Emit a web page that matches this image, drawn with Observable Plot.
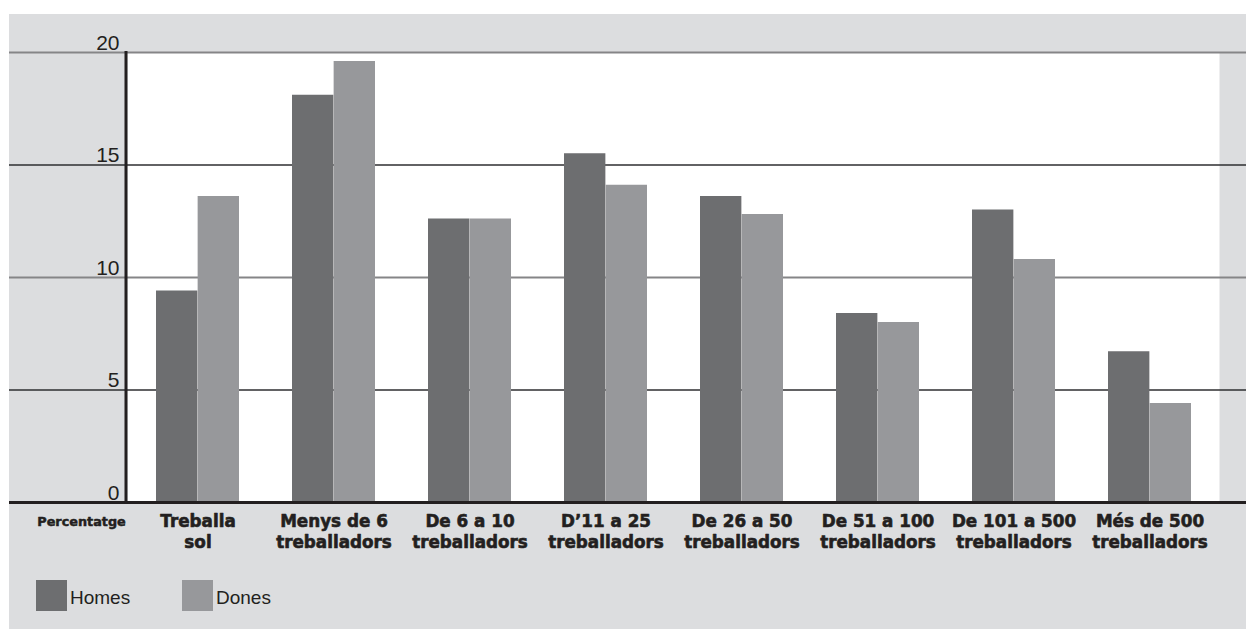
<!DOCTYPE html>
<html>
<head>
<meta charset="utf-8">
<script src="https://cdn.jsdelivr.net/npm/d3@7"></script>
<script src="https://cdn.jsdelivr.net/npm/@observablehq/plot@0.6"></script>
<style>
  html, body { margin: 0; padding: 0; background: #ffffff; }
  #panel { position: absolute; left: 9px; top: 14px; width: 1237px; height: 615px; background: #dcdddf; overflow: hidden; }
  #legend { position: relative; height: 65px; font-family: "Liberation Sans", Arial, sans-serif; font-size: 19px; color: #231f20; }
  .item { position: absolute; top: 16px; display: flex; align-items: center; }
  .sw { width: 31px; height: 31px; margin-right: 3px; }
  .lbl { position: relative; top: 2px; }
</style>
</head>
<body>
<div id="panel"><div id="chart"></div><div id="legend"></div></div>
<script>
const categories = ["Treballa sol", "Menys de 6 treballadors", "De 6 a 10 treballadors", "D\u201911 a 25 treballadors", "De 26 a 50 treballadors", "De 51 a 100 treballadors", "De 101 a 500 treballadors", "M\u00e9s de 500 treballadors"];
const categoryLabels = ["Treballa\nsol", "Menys de 6\ntreballadors", "De 6 a 10\ntreballadors", "D\u201911 a 25\ntreballadors", "De 26 a 50\ntreballadors", "De 51 a 100\ntreballadors", "De 101 a 500\ntreballadors", "M\u00e9s de 500\ntreballadors"];
const series = ["Homes", "Dones"];
const homes = [9.4, 18.1, 12.6, 15.5, 13.6, 8.4, 13.0, 6.7];
const dones = [13.6, 19.6, 12.6, 14.1, 12.8, 8.0, 10.8, 4.4];
const yTicks = [0, 5, 10, 15, 20];
const yAxisTitle = "Percentatge";
const colors = {Homes: "#6d6e70", Dones: "#97989b"};

const rowsH = categories.map((c, i) => ({category: c, series: "Homes", value: homes[i]}));
const rowsD = categories.map((c, i) => ({category: c, series: "Dones", value: dones[i]}));

const W = 1237, ML = 118, MR = 27;
const padInner = 0.39;
const step = (W - ML - MR) / categories.length;
const half = step * (1 - padInner) / 2;
const labelOf = new Map(categories.map((c, i) => [c, categoryLabels[i]]));
const textColor = "#231f20";

const chart = Plot.plot({
  width: W,
  height: 550,
  marginTop: 38,
  marginBottom: 62,
  marginLeft: ML,
  marginRight: MR,
  style: {background: "transparent", overflow: "visible"},
  x: {domain: categories, type: "band", paddingInner: padInner, paddingOuter: padInner / 2, axis: null},
  y: {domain: [0, 20], axis: null},
  marks: [
    Plot.frame({fill: "#ffffff", stroke: "none"}),
    Plot.ruleY(yTicks.filter(d => d % 10 === 0 && d > 0), {stroke: "#858587", strokeWidth: 2, insetLeft: -ML, insetRight: -MR}),
    Plot.ruleY(yTicks.filter(d => d % 10 === 5), {stroke: "#2e2e30", strokeWidth: 1.5, insetLeft: -ML, insetRight: -MR}),
    Plot.barY(rowsH, {x: "category", y: "value", fill: colors.Homes, insetRight: half}),
    Plot.barY(rowsD, {x: "category", y: "value", fill: colors.Dones, insetLeft: half}),
    Plot.ruleY([0], {stroke: "#231f20", strokeWidth: 3, insetLeft: -ML, insetRight: -MR}),
    Plot.frame({anchor: "left", stroke: "#231f20", strokeWidth: 3, dx: -1.5}),
    Plot.text(yTicks, {y: d => d, text: d => String(d), frameAnchor: "left", dx: -8, dy: -3, textAnchor: "end", lineAnchor: "bottom", fontSize: 21, fontFamily: "Liberation Sans, Arial, sans-serif", fill: textColor}),
    Plot.text(categories, {x: d => d, text: d => labelOf.get(d), frameAnchor: "bottom", lineAnchor: "top", dy: 10, fontSize: 16.8, lineHeight: 1.25, fontWeight: "bold", fontFamily: "DejaVu Sans, sans-serif", fill: textColor, stroke: textColor, strokeWidth: 0.6}),
    Plot.text([yAxisTitle], {text: d => d, frameAnchor: "bottom-left", dx: -46, dy: 14, textAnchor: "middle", lineAnchor: "top", fontSize: 12.8, fontWeight: "bold", fontFamily: "DejaVu Sans, sans-serif", fill: textColor, stroke: textColor, strokeWidth: 0.5})
  ]
});
document.getElementById("chart").appendChild(chart);

const legend = document.getElementById("legend");
const legendLeft = [27, 173];
series.forEach((s, i) => {
  const item = document.createElement("div");
  item.className = "item";
  item.style.left = legendLeft[i] + "px";
  const sw = document.createElement("div");
  sw.className = "sw";
  sw.style.background = colors[s];
  const lbl = document.createElement("span");
  lbl.className = "lbl";
  lbl.textContent = s;
  item.appendChild(sw);
  item.appendChild(lbl);
  legend.appendChild(item);
});
</script>
</body>
</html>
